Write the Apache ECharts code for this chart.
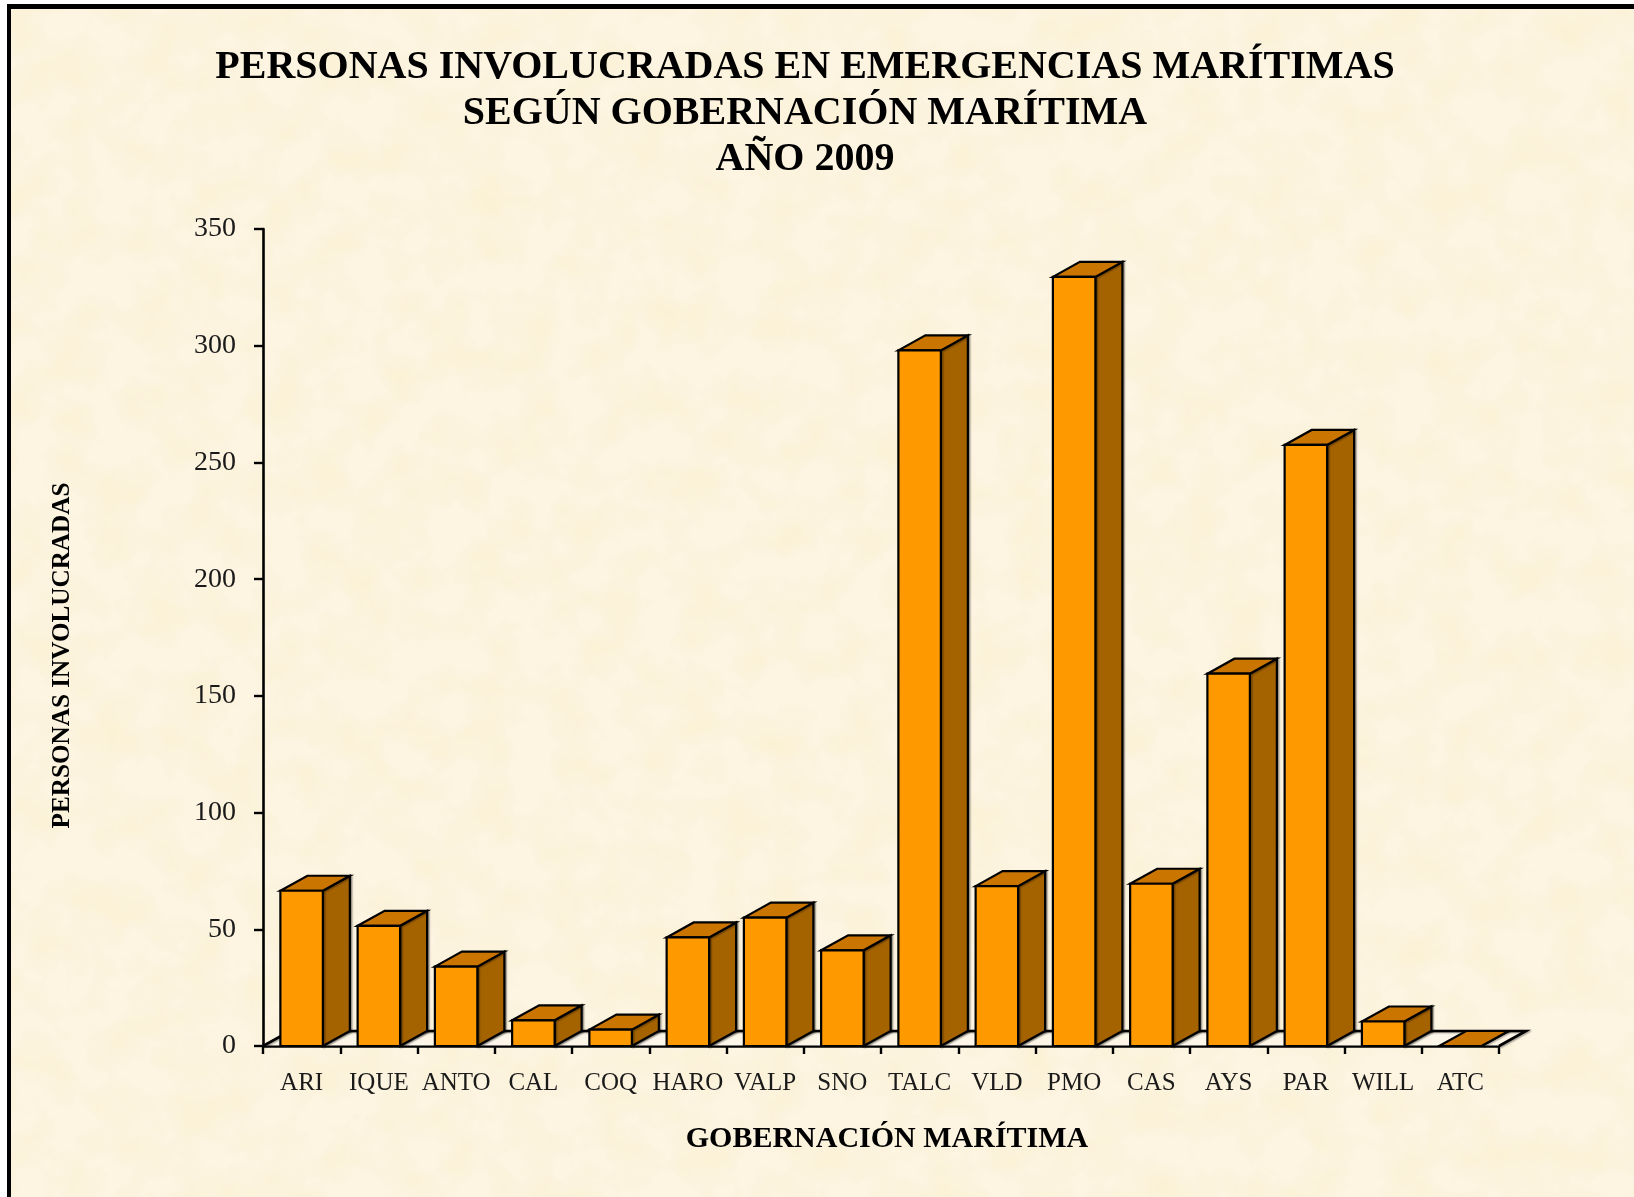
<!DOCTYPE html>
<html><head><meta charset="utf-8">
<style>
html,body{margin:0;padding:0;background:#fff;width:1634px;height:1197px;overflow:hidden}
#paper{position:absolute;left:7px;top:4px;width:1627px;height:1193px;box-sizing:border-box;border-left:4px solid #000;border-top:5px solid #000;background-color:#fcf3e0}
#chart{position:absolute;left:0;top:0;width:1634px;height:1197px}
</style>
<script src="https://cdn.jsdelivr.net/npm/echarts@6/dist/echarts.min.js"></script>
</head><body>
<div id="paper"></div><div id="chart"></div>
<script>
const categories = ['ARI','IQUE','ANTO','CAL','COQ','HARO','VALP','SNO','TALC','VLD','PMO','CAS','AYS','PAR','WILL','ATC'];
const personas = [66.5,51.5,34,11,7,46.5,55,41,298,68.5,329.5,69.5,159.5,257.5,10.5,0];
const titleLines = ['PERSONAS INVOLUCRADAS EN EMERGENCIAS MARÍTIMAS','SEGÚN GOBERNACIÓN MARÍTIMA','AÑO 2009'];
const xName = 'GOBERNACIÓN MARÍTIMA';
const yName = 'PERSONAS INVOLUCRADAS';

const svg = "<svg xmlns='http://www.w3.org/2000/svg' width='1634' height='1197'><filter id='n' x='0' y='0' width='100%' height='100%'><feTurbulence type='fractalNoise' baseFrequency='0.024' numOctaves='4' seed='11'/><feColorMatrix values='0 0 0 0 0.95 0 0 0 0 0.87 0 0 0 0 0.62 1.2 0 0 0 -0.42'/></filter><rect width='1634' height='1197' fill='#fdf4e2'/><rect width='1634' height='1197' filter='url(#n)'/></svg>";
document.getElementById('paper').style.backgroundImage = 'url("data:image/svg+xml,' + encodeURIComponent(svg) + '")';

const DX = 27, DY = 15, BAR_RATIO = 0.55;
const FRONT = '#ff9900', TOP = '#c97500', SIDE = '#a56300', LW = 2.2;
const shadow = {shadowColor:'rgba(0,0,0,0.35)',shadowBlur:1.5,shadowOffsetX:1.5,shadowOffsetY:1};

function renderBar(params, api) {
  const base = api.coord([api.value(0), 0]);
  const top = api.coord([api.value(0), api.value(1)]);
  const w = api.size([1, 0])[0] * BAR_RATIO;
  const x0 = base[0] - w / 2, x1 = base[0] + w / 2, yb = base[1], yt = top[1];
  const children = [];
  if (params.dataIndex === 0) {
    const c = params.coordSys;
    const L = c.x, R = c.x + c.width, B = c.y + c.height;
    children.push({type:'polygon',shape:{points:[[L,B],[L+DX,B-DY],[R+DX,B-DY],[R,B]]},
      style:{fill:'rgba(255,255,255,0.3)',stroke:null}});
    children.push({type:'polyline',shape:{points:[[L,B],[L+DX,B-DY],[R+DX,B-DY],[R,B]]},
      style:Object.assign({fill:null,stroke:'#000',lineWidth:2.6},shadow)});
  }
  children.push({type:'polygon',shape:{points:[[x1,yb],[x1+DX,yb-DY],[x1+DX,yt-DY],[x1,yt]]},
    style:Object.assign({fill:SIDE,stroke:'#000',lineWidth:LW,lineJoin:'miter'},shadow)});
  children.push({type:'polygon',shape:{points:[[x0,yt],[x0+DX,yt-DY],[x1+DX,yt-DY],[x1,yt]]},
    style:{fill:TOP,stroke:'#000',lineWidth:LW}});
  if (yb - yt > 0.5) {
    children.push({type:'rect',shape:{x:x0,y:yt,width:w,height:yb-yt},
      style:{fill:FRONT,stroke:'#000',lineWidth:LW}});
  }
  return {type:'group',children};
}

const chart = echarts.init(document.getElementById('chart'), null, {renderer:'canvas'});
const serif = '"Liberation Serif","Times New Roman",serif';
chart.setOption({
  animation:false,
  backgroundColor:'transparent',
  title:{text:titleLines.join('\n'),left:800,top:40,textAlign:'center',
    textStyle:{fontFamily:serif,fontWeight:'bold',fontSize:40,lineHeight:46,color:'#000'}},
  grid:{left:263,top:229,width:1236,height:817,containLabel:false},
  xAxis:{type:'category',data:categories,boundaryGap:true,
    name:xName,nameLocation:'middle',nameGap:78,
    nameTextStyle:{fontFamily:serif,fontWeight:'bold',fontSize:30,color:'#000',padding:[0,0,0,12]},
    axisLine:{show:true,lineStyle:{color:'#000',width:2.6}},
    axisTick:{show:true,alignWithLabel:false,length:8,lineStyle:{color:'#000',width:2.4}},
    axisLabel:{interval:0,margin:25,fontFamily:serif,fontSize:25,color:'#1a1a1a'},
    splitLine:{show:false}},
  yAxis:{type:'value',min:0,max:350,interval:50,
    name:yName,nameLocation:'middle',nameGap:188,nameRotate:90,
    nameTextStyle:{fontFamily:serif,fontWeight:'bold',fontSize:25.2,color:'#000',padding:[0,36,0,0]},
    axisLine:{show:true,lineStyle:{color:'#000',width:2.6}},
    axisTick:{show:true,length:9,lineStyle:{color:'#000',width:2.4}},
    axisLabel:{margin:27,fontFamily:serif,fontSize:28,color:'#1a1a1a',padding:[4,0,0,0]},
    splitLine:{show:false}},
  series:[{type:'custom',name:yName,coordinateSystem:'cartesian2d',clip:false,
    encode:{x:0,y:1},
    data:personas.map((v,i)=>[i,v]),
    renderItem:renderBar}]
});
</script>
</body></html>
